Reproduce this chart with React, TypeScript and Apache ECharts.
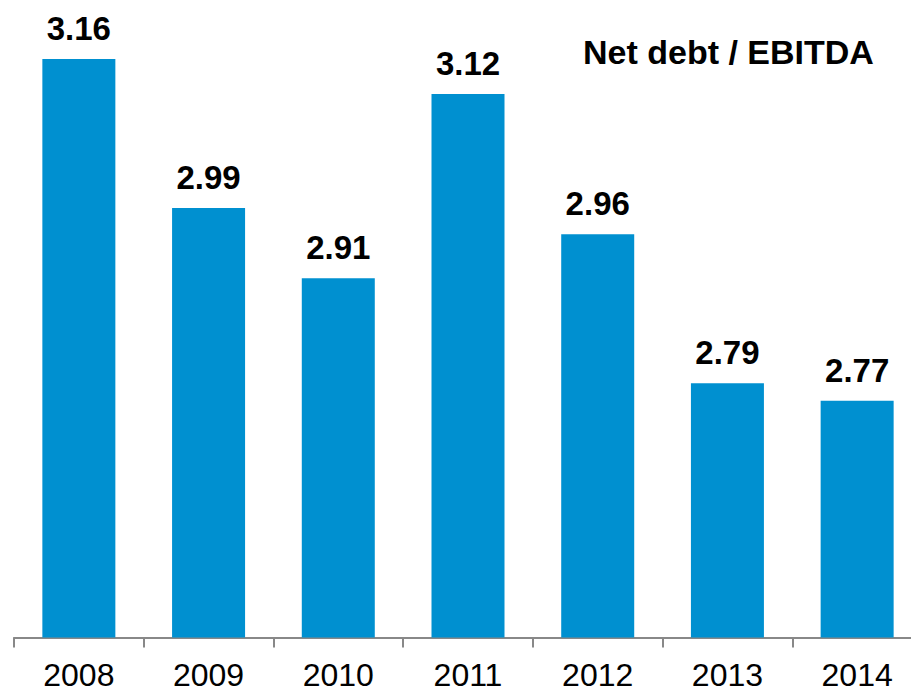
import React, { useEffect, useRef } from "react";
import * as echarts from "echarts";

const categories = ["2008", "2009", "2010", "2011", "2012", "2013", "2014"];
const values = [3.16, 2.99, 2.91, 3.12, 2.96, 2.79, 2.77];
const titleText = "Net debt / EBITDA";

const FONT = "'Liberation Sans', Arial, sans-serif";

export default function App() {
  const ref = useRef<HTMLDivElement>(null);
  useEffect(() => {
    const chart = echarts.init(ref.current!, undefined, { renderer: "svg" });
    chart.setOption({
      animation: false,
      backgroundColor: "#ffffff",
      title: {
        text: titleText,
        left: 578,
        top: 30,
        textStyle: { fontFamily: FONT, fontSize: 34, fontWeight: "bold", color: "#000" },
      },
      grid: { left: 14, width: 908, top: 24, bottom: 55.5, outerBoundsMode: "none", containLabel: false },
      xAxis: {
        type: "category",
        data: categories,
        axisLine: { show: true, lineStyle: { color: "#888888", width: 2 } },
        axisTick: { show: true, length: 10, lineStyle: { color: "#888888", width: 2 } },
        axisLabel: { fontFamily: FONT, fontSize: 32, color: "#000", margin: 21 },
      },
      yAxis: {
        type: "value",
        min: 2.5,
        max: 3.2,
        show: false,
        splitLine: { show: false },
      },
      series: [
        {
          type: "bar",
          data: values,
          barWidth: 73,
          itemStyle: { color: "#0090d0" },
          label: {
            show: true,
            position: "top",
            distance: 14,
            fontFamily: FONT,
            fontSize: 33,
            fontWeight: "bold",
            color: "#000",
            formatter: (p: any) => p.value.toFixed(2),
          },
        },
      ],
    });
    return () => chart.dispose();
  }, []);
  return (
    <div
      ref={ref}
      style={{ position: "fixed", left: 0, top: 0, width: 911, height: 693 }}
    />
  );
}
